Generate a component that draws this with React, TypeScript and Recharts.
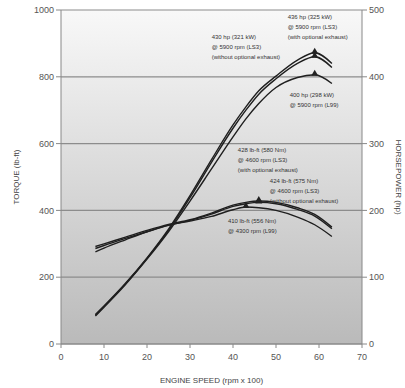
import React from 'react';
import {
  ComposedChart,
  Line,
  Scatter,
  XAxis,
  YAxis,
  CartesianGrid,
  Label,
} from 'recharts';

// engine speed, rpm x 100
const rpm = [8, 10, 15, 20, 25, 30, 35, 40, 43, 46, 50, 55, 59, 63];

// torque, lb-ft
const torqueLs3Ex = [292, 300, 320, 340, 358, 372, 392, 416, 424, 428, 424, 408, 388, 350];
const torqueLs3 = [286, 295, 316, 336, 355, 370, 389, 412, 420, 424, 420, 403, 383, 345];
const torqueL99 = [276, 287, 312, 336, 356, 368, 382, 402, 410, 408, 400, 380, 357, 322];

// horsepower, hp
const hpLs3Ex = [44, 57, 91, 129, 172, 222, 276, 328, 355, 379, 401, 425, 436, 420];
const hpLs3 = [43, 56, 90, 128, 170, 219, 272, 323, 350, 374, 397, 420, 430, 414];
const hpL99 = [42, 55, 89, 127, 168, 214, 262, 310, 337, 360, 384, 399, 403, 390];

const xTicks = [0, 10, 20, 30, 40, 50, 60, 70];
const torqueTicks = [0, 200, 400, 600, 800, 1000];
const hpTicks = [0, 100, 200, 300, 400, 500];

// peak markers
const hpPeakRpm = [59, 59, 59];
const hpPeakVal = [436, 430, 403];
const hpNotes = [
  ['436 hp (325 kW)', '@ 5900 rpm (LS3)', '(with optional exhaust)'],
  ['430 hp (321 kW)', '@ 5900 rpm (LS3)', '(without optional exhaust)'],
  ['400 hp (298 kW)', '@ 5900 rpm (L99)'],
];
const tqPeakRpm = [46, 46, 43];
const tqPeakVal = [428, 424, 410];
const tqNotes = [
  ['428 lb-ft (580 Nm)', '@ 4600 rpm (LS3)', '(with optional exhaust)'],
  ['424 lb-ft (575 Nm)', '@ 4600 rpm (LS3)', '(without optional exhaust)'],
  ['410 lb-ft (556 Nm)', '@ 4300 rpm (L99)'],
];

// where each note sits relative to its marker (px)
const hpNoteOffset = [[-27, -34], [-103, -18], [-25, 22]];
const tqNoteOffset = [[-21, -49], [11, -19], [-18, 16]];

const data = rpm.map((r, i) => ({
  rpm: r,
  t1: torqueLs3Ex[i],
  t2: torqueLs3[i],
  t3: torqueL99[i],
  h1: hpLs3Ex[i],
  h2: hpLs3[i],
  h3: hpL99[i],
}));

const hpPeaks = hpPeakRpm.map((r, i) => ({ rpm: r, val: hpPeakVal[i], note: hpNotes[i], off: hpNoteOffset[i] }));
const tqPeaks = tqPeakRpm.map((r, i) => ({ rpm: r, val: tqPeakVal[i], note: tqNotes[i], off: tqNoteOffset[i] }));

const lineColor = '#1f1f1f';
const tickStyle = { fontSize: 9, fill: '#555', fontFamily: 'Liberation Sans, Arial, sans-serif' };

const PeakMark = (props: any) => {
  const { cx, cy, payload } = props;
  if (cx == null || cy == null) return null;
  const [dx, dy] = payload.off;
  return (
    <g>
      <path d={`M${cx},${cy - 5} L${cx + 3.5},${cy + 1} L${cx - 3.5},${cy + 1} Z`} fill="#222" />
      <text
        x={cx + dx}
        y={cy + dy}
        fontSize={6}
        fill="#333"
        fontFamily="Liberation Sans, Arial, sans-serif"
      >
        {payload.note.map((line: string, k: number) => (
          <tspan key={k} x={cx + dx} dy={k === 0 ? 0 : 10}>
            {line}
          </tspan>
        ))}
      </text>
    </g>
  );
};

export default function App() {
  return (
    <div style={{ position: 'absolute', left: 0, top: 0, width: 405, height: 388, background: '#fff' }}>
      <ComposedChart width={405} height={388} data={data} margin={{ top: 10, right: 0, bottom: 0, left: 0 }}>
        <defs>
          <linearGradient id="plotBg" x1="0" y1="0" x2="0" y2="1">
            <stop offset="0%" stopColor="#f8f8f8" />
            <stop offset="20%" stopColor="#ececec" />
            <stop offset="100%" stopColor="#bababa" />
          </linearGradient>
        </defs>
        <CartesianGrid
          yAxisId="left"
          vertical={false}
          stroke="#8c8c8c"
          strokeWidth={1.2}
          fill="url(#plotBg)"
        />
        <XAxis
          dataKey="rpm"
          type="number"
          domain={[0, 70]}
          ticks={xTicks}
          height={44}
          stroke="#888"
          tickSize={4}
          tick={tickStyle}
          tickMargin={6}
        >
          <Label
            value="ENGINE SPEED (rpm x 100)"
            position="insideBottom"
            offset={5}
            style={{ fontSize: 8, fill: '#444', fontFamily: 'Liberation Sans, Arial, sans-serif' }}
          />
        </XAxis>
        <YAxis
          yAxisId="left"
          domain={[0, 1000]}
          ticks={torqueTicks}
          width={61}
          stroke="#888"
          tickSize={5}
          tick={tickStyle}
        >
          <Label
            value="TORQUE (lb-ft)"
            angle={-90}
            position="insideLeft"
            offset={16}
            style={{ fontSize: 8, fill: '#444', textAnchor: 'middle', fontFamily: 'Liberation Sans, Arial, sans-serif' }}
          />
        </YAxis>
        <YAxis
          yAxisId="right"
          orientation="right"
          domain={[0, 500]}
          ticks={hpTicks}
          width={43}
          stroke="#888"
          tickSize={5}
          tick={tickStyle}
        >
          <Label
            value="HORSEPOWER (hp)"
            angle={90}
            position="insideRight"
            offset={6}
            style={{ fontSize: 8, fill: '#444', textAnchor: 'middle', fontFamily: 'Liberation Sans, Arial, sans-serif' }}
          />
        </YAxis>

        <Line yAxisId="left" type="monotone" dataKey="t1" stroke={lineColor} strokeWidth={1.4} dot={false} isAnimationActive={false} />
        <Line yAxisId="left" type="monotone" dataKey="t2" stroke={lineColor} strokeWidth={1.4} dot={false} isAnimationActive={false} />
        <Line yAxisId="left" type="monotone" dataKey="t3" stroke={lineColor} strokeWidth={1.4} dot={false} isAnimationActive={false} />
        <Line yAxisId="right" type="monotone" dataKey="h1" stroke={lineColor} strokeWidth={1.4} dot={false} isAnimationActive={false} />
        <Line yAxisId="right" type="monotone" dataKey="h2" stroke={lineColor} strokeWidth={1.4} dot={false} isAnimationActive={false} />
        <Line yAxisId="right" type="monotone" dataKey="h3" stroke={lineColor} strokeWidth={1.4} dot={false} isAnimationActive={false} />

        <Scatter yAxisId="right" data={hpPeaks} dataKey="val" shape={PeakMark} isAnimationActive={false} />
        <Scatter yAxisId="left" data={tqPeaks} dataKey="val" shape={PeakMark} isAnimationActive={false} />
      </ComposedChart>
    </div>
  );
}
